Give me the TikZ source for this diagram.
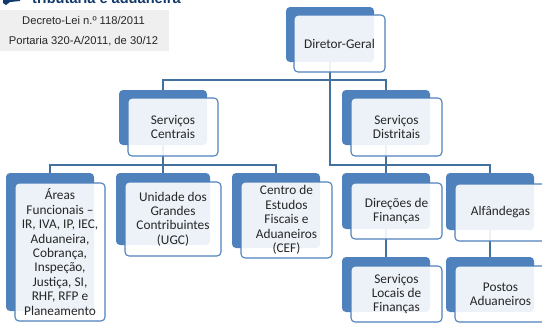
\documentclass[tikz,border=0pt]{standalone}
\usepackage{fontspec}
\setmainfont{Carlito}
\newfontfamily\arialfont{Liberation Sans}
\definecolor{boxblue}{HTML}{4F81BD}
\definecolor{linkblue}{HTML}{41719C}
\definecolor{notegray}{HTML}{EFEFEF}
\definecolor{logoblue}{HTML}{123A6B}
\tikzset{
  backbox/.style={rectangle,rounded corners=4pt,fill=boxblue,inner sep=0pt},
  frontbox/.style={rectangle,rounded corners=4pt,draw=boxblue,line width=1.1pt,fill=white,fill opacity=0.9,text opacity=1,
    inner sep=0pt,align=center,font=\fontsize{13.3}{14.4}\selectfont,text=black!85},
  notetext/.style={font=\arialfont\fontsize{11.2}{13}\selectfont,inner sep=0pt,text=black!85},
  link/.style={draw=linkblue,line width=1.1pt}
}
\begin{document}
\begin{tikzpicture}[x=1pt,y=-1pt]
\useasboundingbox (0,0) rectangle (542,322);
\clip (0,0) rectangle (542,322);

% logo and note
\fill[color=logoblue] (3,-3) -- (20,-3) -- (20,1) -- (10,2) -- (6,5) -- (3,3) -- cycle;
\node[anchor=base west,inner sep=0pt,text=logoblue,font=\arialfont\bfseries\fontsize{14.6}{15}\selectfont] (logotext) at (32,3) {tribut\'aria e aduaneira};
\node[fill=notegray,minimum width=169pt,minimum height=41pt,inner sep=0pt,anchor=north west] (note) at (0,10) {};
\node[notetext] (notea) at (83.5,20) {Decreto-Lei n.º 118/2011};
\node[notetext] (noteb) at (83.5,41) {Portaria 320-A/2011, de 30/12};

% back boxes
\node[backbox,minimum width=88pt,minimum height=55pt] (dgback) at (330,34.5) {};
\node[backbox,minimum width=88pt,minimum height=55pt] (scback) at (163,117.5) {};
\node[backbox,minimum width=88pt,minimum height=55pt] (sdback) at (386,117.5) {};
\node[backbox,minimum width=88pt,minimum height=138pt] (afback) at (50,242) {};
\node[backbox,minimum width=94pt,minimum height=72pt] (ugback) at (163,209) {};
\node[backbox,minimum width=88pt,minimum height=75pt] (ceback) at (276,210.5) {};
\node[backbox,minimum width=88pt,minimum height=56pt] (dfback) at (386,201) {};
\node[backbox,minimum width=88pt,minimum height=57pt] (alback) at (490,201.5) {};
\node[backbox,minimum width=88pt,minimum height=55pt] (slback) at (386,284.5) {};
\node[backbox,minimum width=88pt,minimum height=55pt] (paback) at (490,284.5) {};

% links
\coordinate (busa) at (330,80);
\coordinate (busb) at (330,165);
\coordinate (busc) at (163,165);
\draw[link] (dgback.south) -- (busa) -| (scback.north);
\draw[link] (busa) -| (sdback.north);
\draw[link] (busa) -- (busb) -| (alback.north);
\draw[link] (busb) -| (dfback.north);
\draw[link] (sdback.south) -- (dfback.north);
\draw[link] (scback.south) -- (busc) -| (afback.north);
\draw[link] (busc) -- (ugback.north);
\draw[link] (busc) -| (ceback.north);
\draw[link] (dfback.south) -- (slback.north);
\draw[link] (alback.south) -- (paback.north);

% front boxes
\node[frontbox,minimum width=91pt,minimum height=57pt] (dg) at (339.5,43.5) {Diretor-Geral};
\node[frontbox,minimum width=90pt,minimum height=58pt] (sc) at (173,127) {Serviços\\Centrais};
\node[frontbox,minimum width=91pt,minimum height=58pt] (sd) at (396.5,127) {Serviços\\Distritais};
\node[frontbox,minimum width=90pt,minimum height=138pt] (af) at (60,252) {Áreas\\Funcionais --\\IR, IVA, IP, IEC,\\Aduaneira,\\Cobrança,\\Inspeção,\\Justiça, SI,\\RHF, RFP e\\Planeamento};
\node[frontbox,minimum width=96pt,minimum height=74pt] (ug) at (173,219) {Unidade dos\\Grandes\\Contribuintes\\(UGC)};
\node[frontbox,minimum width=91pt,minimum height=76pt] (ce) at (286.5,220) {Centro de\\Estudos\\Fiscais e\\Aduaneiros\\(CEF)};
\node[frontbox,minimum width=91pt,minimum height=56pt] (df) at (396.5,211) {Direções de\\Finanças};
\node[frontbox,minimum width=91pt,minimum height=57pt] (al) at (500.5,212.5) {Alfândegas};
\node[frontbox,minimum width=91pt,minimum height=56pt] (sl) at (396.5,294) {Serviços\\Locais de\\Finanças};
\node[frontbox,minimum width=91pt,minimum height=56pt] (pa) at (500.5,294) {Postos\\Aduaneiros};
\end{tikzpicture}
\end{document}
